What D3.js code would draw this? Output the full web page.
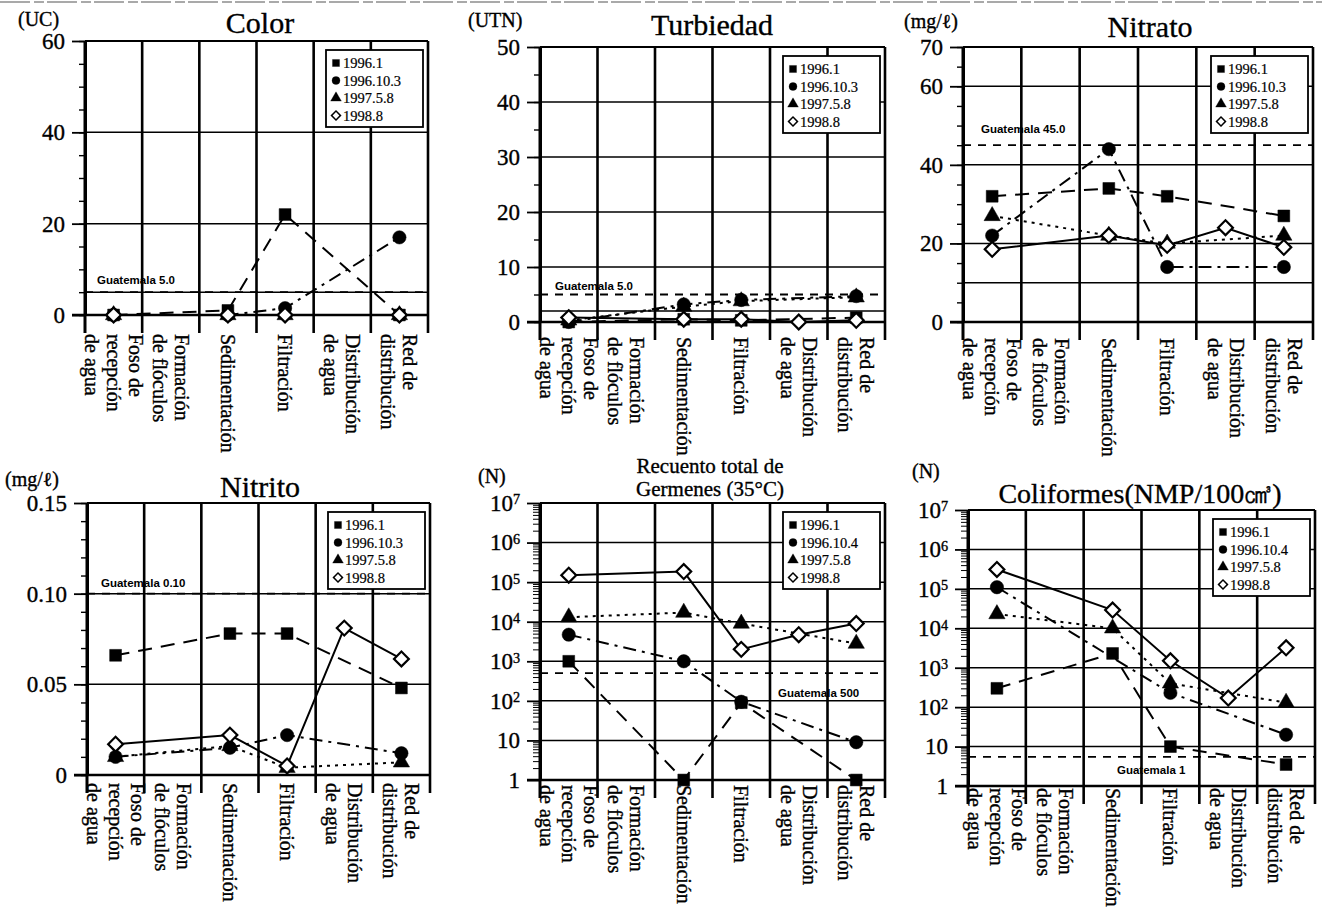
<!DOCTYPE html>
<html>
<head>
<meta charset="utf-8">
<script src="https://cdn.jsdelivr.net/npm/d3@7"></script>
<style>
  body { margin: 0; background: #fff; }
  text { font-family: "Liberation Serif", "Times New Roman", serif; fill: #000; stroke: #000; stroke-width: 0.35px; }
  .gua { font-family: "Liberation Sans", Arial, sans-serif; font-weight: bold; font-size: 11.5px; stroke-width: 0; }
</style>
</head>
<body>
<svg id="chart" width="1322" height="914"></svg>
<script>
// stages of the treatment plant (x axis), label split in lines
var stages = ["Foso de recepción de agua", "Formación de flóculos", "Sedimentación",
              "Filtración", "Distribución de agua", "Red de distribución"];
var stageLines = [["Foso de", "recepción", "de agua"], ["Formación", "de flóculos"], ["Sedimentación"],
                  ["Filtración"], ["Distribución", "de agua"], ["Red de", "distribución"]];

// sampling dates (legend)
var datesA = ["1996.1", "1996.10.3", "1997.5.8", "1998.8"];
var datesB = ["1996.1", "1996.10.4", "1997.5.8", "1998.8"];

// values per date, one per stage (null = not measured)
var colorVals = [
  [0, null, 1, 22, null, 0],
  [0, null, 0, 1.5, null, 17],
  [0, null, 0, 0, null, 0],
  [0, null, 0, 0, null, 0]
];
var turbVals = [
  [0, null, 0.5, 0.3, null, 0.8],
  [0, null, 3.2, 4.0, null, 4.7],
  [0.3, null, 2.8, 3.8, null, 4.5],
  [0.8, null, 0.5, 0.5, 0, 0.3]
];
var nitratoVals = [
  [32, null, 34, 32, null, 27],
  [22, null, 44, 14, null, 14],
  [27, null, 22, 20, null, 22],
  [18.5, null, 22, 19.5, 24, 19]
];
var nitritoVals = [
  [0.066, null, 0.078, 0.078, null, 0.048],
  [0.010, null, 0.015, 0.022, null, 0.012],
  [0.010, null, 0.016, 0.004, null, 0.007],
  [0.017, null, 0.022, 0.005, 0.081, 0.064]
];
var germVals = [
  [1000, null, 1, 90, null, 1],
  [4700, null, 1000, 95, null, 9],
  [13000, null, 17000, 9000, null, 2800],
  [150000, null, 185000, 2000, 4700, 9000]
];
var coliVals = [
  [300, null, 2300, 10, null, 3.5],
  [110000, null, null, 230, null, 20],
  [23000, null, 10000, 400, null, 130],
  [310000, null, 29000, 1500, 170, 3200]
];

// tick labels
var colorTicks = [0, 20, 40, 60];
var turbTicks = [0, 10, 20, 30, 40, 50];
var nitratoTicks = [0, 20, 40, 60, 70];
var nitritoTicks = [0, 0.05, 0.10, 0.15];
var logTicks = [1, 10, 100, 1e3, 1e4, 1e5, 1e6, 1e7];

var svg = d3.select("#chart");

// line style per date
var dashes = ["14,9", "13,6,3,6", "3,5", null];
var symbols = [d3.symbolSquare, d3.symbolCircle, d3.symbolTriangle, d3.symbolSquare];

var panels = [
  { title: ["Color"], tsize: 30, tx: 260, ty: [33], unit: "(UC)", ux: 18, uy: 26,
    l: 85, r: 428, t: 41, b: 315, domain: [0, 60], ticks: colorTicks, grid: [20, 40], minor: 5,
    fmt: d3.format("d"), japan: 5, gua: 5, guaText: "Guatemala 5.0", gdx: 12, gdy: -12,
    vals: colorVals, dates: datesA, labOff: 19 },
  { title: ["Turbiedad"], tsize: 30, tx: 712, ty: [35], unit: "(UTN)", ux: 468, uy: 27,
    l: 540, r: 885, t: 47, b: 322, domain: [0, 50], ticks: turbTicks, grid: [10, 20, 30, 40], minor: 5,
    fmt: d3.format("d"), japan: 2, gua: 5, guaText: "Guatemala 5.0", gdx: 15, gdy: -9,
    vals: turbVals, dates: datesA, labOff: 15 },
  { title: ["Nitrato"], tsize: 30, tx: 1150, ty: [37], unit: "(mg/ℓ)", ux: 904, uy: 28,
    l: 963, r: 1313, t: 47, b: 322, domain: [0, 70], ticks: nitratoTicks, grid: [20, 40, 60], minor: 5,
    fmt: d3.format("d"), japan: 10, gua: 45, guaText: "Guatemala 45.0", gdx: 18, gdy: -16,
    vals: nitratoVals, dates: datesA, labOff: 16 },
  { title: ["Nitrito"], tsize: 30, tx: 260, ty: [497], unit: "(mg/ℓ)", ux: 5, uy: 486,
    l: 87, r: 430, t: 503, b: 775, domain: [0, 0.15], ticks: nitritoTicks, grid: [0.05, 0.10], minor: 0.01,
    fmt: function(d) { return d === 0 ? "0" : d3.format(".2f")(d); }, japan: null, gua: 0.10,
    guaText: "Guatemala 0.10", gdx: 14, gdy: -11, vals: nitritoVals, dates: datesA, labOff: 8 },
  { title: ["Recuento total de", "Germenes (35°C)"], tsize: 21, tx: 710, ty: [473, 496], unit: "(N)", ux: 478, uy: 483,
    l: 540, r: 885, t: 503, b: 780, log: true, domain: [1, 1e7], ticks: logTicks,
    gua: 500, guaText: "Guatemala 500", gdx: 238, gdy: 20, vals: germVals, dates: datesB, labOff: 5 },
  { title: ["Coliformes(NMP/100㎤)"], tsize: 28, tx: 1140, ty: [503], unit: "(N)", ux: 912, uy: 478,
    l: 968, r: 1315, t: 510, b: 786, log: true, domain: [1, 1e7], ticks: logTicks,
    gua: 5.5, guaText: "Guatemala 1", gdx: 149, gdy: 13, vals: coliVals, dates: datesB, labOff: 2 }
];

function supLabel(sel, d) {
  var e = Math.round(Math.log10(d));
  if (e === 0) { sel.text("1"); return; }
  if (e === 1) { sel.text("10"); return; }
  sel.text("10");
  sel.append("tspan").attr("dy", "-0.45em").attr("font-size", "0.62em").text(e);
}

function drawPanel(p) {
  var g = svg.append("g");

  var x = d3.scaleBand().domain(d3.range(stages.length)).range([p.l, p.r]);
  var y = p.log
    ? d3.scaleLog().domain(p.domain).range([p.b, p.t])
    : d3.scaleLinear().domain(p.domain).range([p.b, p.t]);
  var cx = function(i) { return x(i) + x.bandwidth() / 2; };

  // title + unit
  p.title.forEach(function(t, k) {
    g.append("text").attr("x", p.tx).attr("y", p.ty[k]).attr("text-anchor", "middle")
      .attr("font-size", p.tsize).text(t);
  });
  g.append("text").attr("x", p.ux).attr("y", p.uy).attr("font-size", 20).text(p.unit);

  // horizontal grid lines
  var gridVals = p.log ? logTicks.slice(1, -1) : p.grid;
  g.selectAll(".hgrid").data(gridVals).enter().append("line")
    .attr("x1", p.l).attr("x2", p.r)
    .attr("y1", function(d) { return y(d); }).attr("y2", function(d) { return y(d); })
    .attr("stroke", "#000").attr("stroke-width", 1.5);

  // top border
  g.append("line").attr("x1", p.l).attr("x2", p.r).attr("y1", p.t).attr("y2", p.t)
    .attr("stroke", "#000").attr("stroke-width", 1.8);

  // reference line (solid) and Guatemala standard (dashed)
  if (p.japan != null) {
    g.append("line").attr("x1", p.l).attr("x2", p.r).attr("y1", y(p.japan)).attr("y2", y(p.japan))
      .attr("stroke", "#000").attr("stroke-width", 1.5);
  }
  g.append("line").attr("x1", p.l).attr("x2", p.r).attr("y1", y(p.gua)).attr("y2", y(p.gua))
    .attr("stroke", "#000").attr("stroke-width", 1.8).attr("stroke-dasharray", "8,7");
  g.append("text").attr("class", "gua").attr("x", p.l + p.gdx).attr("y", y(p.gua) + p.gdy)
    .attr("dominant-baseline", "central").text(p.guaText);

  // vertical stage lines
  var bounds = d3.range(stages.length).map(function(i) { return x(i); }).concat([p.r]);
  g.selectAll(".vgrid").data(bounds).enter().append("line")
    .attr("x1", function(d) { return d; }).attr("x2", function(d) { return d; })
    .attr("y1", p.t).attr("y2", p.b + 18)
    .attr("stroke", "#000").attr("stroke-width", function(d, i) { return i === 0 ? 3 : 2.6; });

  // y axis
  var minorVals;
  if (p.log) {
    minorVals = [];
    for (var e = 0; e < 7; e++) for (var m = 2; m < 10; m++) minorVals.push(m * Math.pow(10, e));
  } else {
    minorVals = d3.range(p.domain[0], p.domain[1] + p.minor / 2, p.minor);
  }
  var minorAxis = g.append("g").attr("transform", "translate(" + p.l + ",0)")
    .call(d3.axisLeft(y).tickValues(minorVals).tickSize(p.log ? 7 : 6).tickSizeOuter(0).tickFormat(""));
  minorAxis.select(".domain").remove();
  minorAxis.selectAll("line").attr("stroke-width", p.log ? 1 : 1.4);

  var yAxis = g.append("g").attr("transform", "translate(" + p.l + ",0)")
    .call(d3.axisLeft(y).tickValues(p.ticks).tickSize(13).tickSizeOuter(0).tickPadding(7)
      .tickFormat(p.log ? function() { return ""; } : p.fmt));
  yAxis.attr("font-family", null).attr("font-size", 23);
  yAxis.select(".domain").attr("stroke-width", 3);
  yAxis.selectAll(".tick line").attr("stroke-width", 1.8);
  if (p.log) {
    yAxis.selectAll(".tick text").each(function(d) { supLabel(d3.select(this), d); });
  }

  // x axis line
  g.append("line").attr("x1", p.l - 13).attr("x2", p.r).attr("y1", p.b).attr("y2", p.b)
    .attr("stroke", "#000").attr("stroke-width", 2.6);

  // stage labels (rotated)
  stageLines.forEach(function(lines, i) {
    var n = lines.length;
    lines.forEach(function(txt, j) {
      var xx = cx(i) + ((n - 1) / 2 - j) * 22;
      g.append("text")
        .attr("transform", "translate(" + xx + "," + (p.b + p.labOff) + ") rotate(90)")
        .attr("dominant-baseline", "central").attr("font-size", 20).text(txt);
    });
  });

  // series lines
  var line = d3.line()
    .x(function(d) { return cx(d.i); })
    .y(function(d) { return y(d.v); });

  p.vals.forEach(function(vals, s) {
    var pts = vals.map(function(v, i) { return { i: i, v: v }; })
      .filter(function(d) { return d.v != null; });
    g.append("path").datum(pts).attr("d", line)
      .attr("fill", "none").attr("stroke", "#000").attr("stroke-width", 2)
      .attr("stroke-dasharray", dashes[s]);
  });

  // markers
  p.vals.forEach(function(vals, s) {
    var pts = vals.map(function(v, i) { return { i: i, v: v }; })
      .filter(function(d) { return d.v != null; });
    g.selectAll(".m" + s).data(pts).enter().append("path")
      .attr("d", d3.symbol().type(symbols[s]).size(s === 3 ? 110 : (s === 2 ? 115 : 140)))
      .attr("transform", function(d) {
        return "translate(" + cx(d.i) + "," + y(d.v) + ")" + (s === 3 ? " rotate(45)" : "");
      })
      .attr("fill", s === 3 ? "#fff" : "#000")
      .attr("stroke", "#000").attr("stroke-width", s === 3 ? 2.2 : 0.5);
  });

  // legend
  var lw = 97, lh = 77;
  var lg = g.append("g").attr("transform", "translate(" + (p.r - 5 - lw) + "," + (p.t + 9) + ")");
  lg.append("rect").attr("width", lw).attr("height", lh)
    .attr("fill", "#fff").attr("stroke", "#000").attr("stroke-width", 1.8);
  p.dates.forEach(function(d, s) {
    var yy = 13 + s * 17.5;
    lg.append("path")
      .attr("d", d3.symbol().type(symbols[s]).size(s === 3 ? 40 : 50))
      .attr("transform", "translate(10," + yy + ")" + (s === 3 ? " rotate(45)" : ""))
      .attr("fill", s === 3 ? "#fff" : "#000").attr("stroke", "#000").attr("stroke-width", s === 3 ? 1.5 : 0.3);
    lg.append("text").attr("x", 17).attr("y", yy).attr("dominant-baseline", "central")
      .attr("font-size", 14.5).style("stroke-width", "0.2px").text(d);
  });
}

panels.forEach(drawPanel);

// scan frame remnant at the top
svg.append("line").attr("x1", 0).attr("x2", 1322).attr("y1", 2).attr("y2", 2)
  .attr("stroke", "#555").attr("stroke-width", 1.2).attr("stroke-dasharray", "30,4,10,3");
</script>
</body>
</html>
